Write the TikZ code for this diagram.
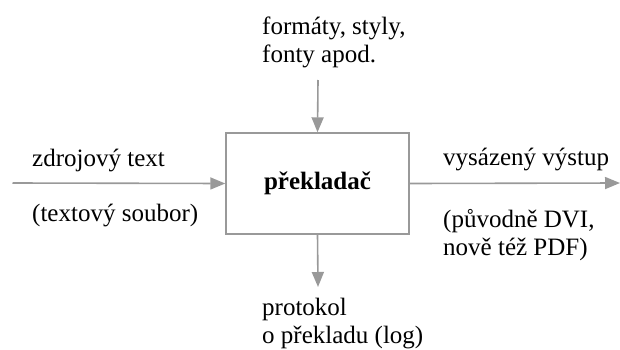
\documentclass[tikz,border=0pt]{standalone}
\usepackage{fontspec}
\setmainfont{Liberation Serif}
\usetikzlibrary{positioning,arrows.meta}

\begin{document}
\begin{tikzpicture}[x=1pt,y=1pt,
    proc/.style={draw=black!40, line width=1.4pt, minimum width=183pt, minimum height=101pt,
      font=\fontsize{25}{28}\selectfont\bfseries},
    lbl/.style={align=left, anchor=base west, inner sep=0pt, font=\fontsize{25}{28}\selectfont},
    flow/.style={draw=black!40, line width=1.6pt, -{Triangle[length=15pt,width=12pt]}}]

  \useasboundingbox (0,0) rectangle (620,349);

  % Define nodes

  % compiler
  \node[proc] (prek) at (317.5,165.5) {překladač};

  % free ends of the arrows
  \coordinate (src_in)  at (12.5,166);
  \coordinate (out_end) at (620,166);
  \coordinate (fmt_in)  at (318,269);
  \coordinate (log_end) at (318,62);

  % labels (base = last line)
  \node[lbl] (src)     at (32,183)  {zdrojový text};
  \node[lbl] (srcfile) at (32,128)  {(textový soubor)};
  \node[lbl] (out)     at (443,184) {vysázený výstup};
  \node[lbl] (outfmt)  at (443,94)  {(původně DVI,\\nově též PDF)};
  \node[lbl] (fmt)     at (262,287) {formáty, styly,\\fonty apod.};
  \node[lbl] (log)     at (262,6)   {protokol\\o překladu (log)};

  % Edges
  \draw[flow] (src_in) -- (prek.west);
  \draw[flow] (prek.east) -- (out_end);
  \draw[flow] (fmt_in) -- (prek.north);
  \draw[flow] (prek.south) -- (log_end);

\end{tikzpicture}
\end{document}
